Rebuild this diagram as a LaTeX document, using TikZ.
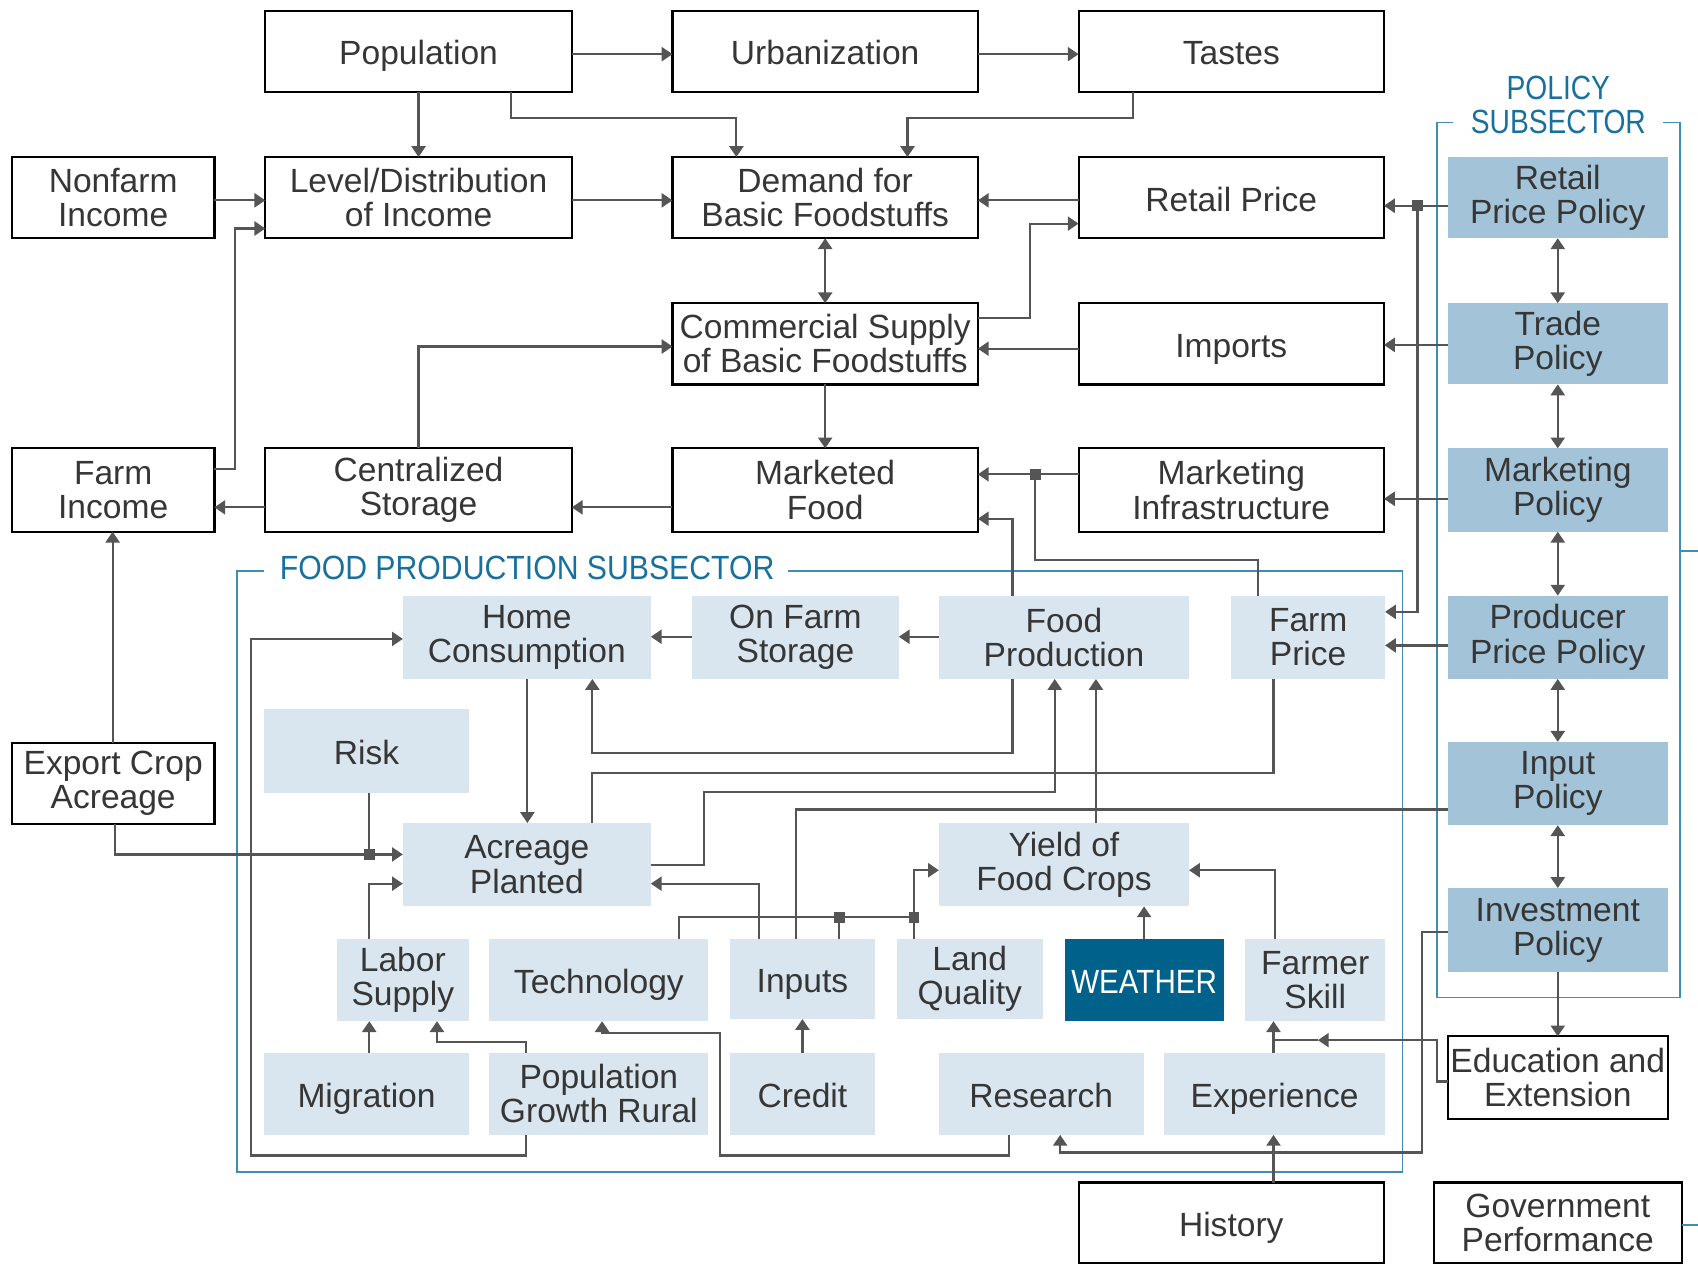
\documentclass[tikz,border=0pt]{standalone}
\usepackage{fontspec}
\usepackage{graphicx}
\setmainfont{Liberation Sans}
\usetikzlibrary{arrows.meta}
\definecolor{lc}{HTML}{555555}
\definecolor{tc}{HTML}{363636}
\definecolor{lfill}{HTML}{D9E5EF}
\definecolor{pfill}{HTML}{A3C3D8}
\definecolor{wfill}{HTML}{00628A}
\definecolor{frc}{HTML}{3E8DB5}
\definecolor{flab}{HTML}{17709D}
\newcommand\mybox[7]{%
  \pgfmathsetmacro\bw{(#4-#3)*0.5}%
  \pgfmathsetmacro\bh{(#6-#5)*0.5}%
  \node[#1, minimum width=\bw pt, minimum height=\bh pt] (#2) at ({(#3+#4)/2},{(#5+#6)/2}) {#7};}
\begin{document}
\begin{tikzpicture}[x=0.5pt,y=-0.5pt,
  base/.style={inner sep=0pt, outer sep=0pt, align=center, font=\fontsize{15.5}{15.8}\selectfont, text=tc},
  sl/.style={text height=12.4pt, text depth=0pt},
  wbox/.style={base, draw=black, line width=1pt, fill=white},
  lbox/.style={base, fill=lfill},
  pbox/.style={base, fill=pfill},
  dbox/.style={base, fill=wfill, text=white},
  ln/.style={draw=lc, line width=1pt},
  arr/.style={ln, -{Triangle[length=5pt,width=6.5pt]}},
  darr/.style={ln, {Triangle[length=5pt,width=6.5pt]}-{Triangle[length=5pt,width=6.5pt]}},
  junc/.style={fill=lc, minimum size=5pt, inner sep=0pt},
  frame/.style={draw=frc, line width=0.8pt},
  flabel/.style={font=\fontsize{15.5}{15.8}\selectfont, text=flab, inner sep=0pt, align=center}]
\useasboundingbox (0,0) rectangle (1568,1168);

% frames
\draw[frame] (244,527) -- (219,527) -- (219,1082) -- (1295,1082) -- (1295,527) -- (728,527);
\node[flabel, anchor=west] (flab) at (258,524) {\scalebox{0.9}[1]{FOOD PRODUCTION SUBSECTOR}};
\draw[frame] (1342,113) -- (1327,113) -- (1327,921) -- (1551.5,921) -- (1551.5,113) -- (1536,113);
\node[flabel] (plab1) at (1439,81) {\scalebox{0.84}[1]{POLICY}};
\node[flabel] (plab2) at (1439,113) {\scalebox{0.84}[1]{SUBSECTOR}};
\draw[frame] (1551.5,509) -- (1568,509);

% white boxes
\mybox{wbox,sl}{pop}{245}{528}{10}{85}{Population}
\mybox{wbox,sl}{urb}{621}{903}{10}{85}{Urbanization}
\mybox{wbox,sl}{tas}{996}{1278}{10}{85}{Tastes}
\mybox{wbox}{nfi}{11}{198}{145}{220}{Nonfarm\\Income}
\mybox{wbox}{lev}{245}{528}{145}{220}{Level/Distribution\\of Income}
\mybox{wbox}{dem}{621}{903}{145}{220}{Demand for\\Basic Foodstuffs}
\mybox{wbox,sl}{ret}{996}{1278}{145}{220}{Retail Price}
\mybox{wbox}{com}{621}{903}{280}{355}{Commercial Supply\\of Basic Foodstuffs}
\mybox{wbox,sl}{imp}{996}{1278}{280}{355}{Imports}
\mybox{wbox}{fin}{11}{198}{414}{491}{Farm\\Income}
\mybox{wbox}{cen}{245}{528}{414}{491}{Centralized\\Storage}
\mybox{wbox}{mkf}{621}{903}{414}{491}{Marketed\\Food}
\mybox{wbox}{mki}{996}{1278}{414}{491}{Marketing\\Infrastructure}
\mybox{wbox}{exp}{11}{198}{686}{761}{Export Crop\\Acreage}
\mybox{wbox}{edu}{1337}{1540}{957}{1033}{Education and\\Extension}
\mybox{wbox,sl}{his}{996}{1278}{1092}{1166}{History}
\mybox{wbox}{gov}{1324}{1553}{1092}{1166}{Government\\Performance}
\draw[frame] (gov.east |- 0,1131) -- (1568,1131);

% light boxes
\mybox{lbox}{hom}{372}{601}{550}{627}{Home\\Consumption}
\mybox{lbox}{ofs}{639}{830}{550}{627}{On Farm\\Storage}
\mybox{lbox}{fpr}{867}{1098}{550}{627}{Food\\Production}
\mybox{lbox}{fpc}{1137}{1279}{550}{627}{Farm\\Price}
\mybox{lbox,sl}{rsk}{244}{433}{655}{732}{Risk}
\mybox{lbox}{acr}{372}{601}{760}{837}{Acreage\\Planted}
\mybox{lbox}{yld}{867}{1098}{760}{837}{Yield of\\Food Crops}
\mybox{lbox}{lab}{311}{433}{867}{943}{Labor\\Supply}
\mybox{lbox,sl}{tec}{452}{654}{867}{943}{Technology}
\mybox{lbox,sl}{inp}{674}{808}{867}{941}{Inputs}
\mybox{lbox}{lnd}{828}{963}{867}{941}{Land\\Quality}
\mybox{dbox,sl}{wea}{983}{1130}{867}{943}{\scalebox{0.88}[1]{WEATHER}}
\mybox{lbox}{fsk}{1150}{1279}{867}{943}{Farmer\\Skill}
\mybox{lbox,sl}{mig}{244}{433}{972}{1048}{Migration}
\mybox{lbox}{pgr}{452}{654}{972}{1048}{Population\\Growth Rural}
\mybox{lbox,sl}{cre}{674}{808}{972}{1048}{Credit}
\mybox{lbox,sl}{res}{867}{1056}{972}{1048}{Research}
\mybox{lbox,sl}{xpe}{1075}{1279}{972}{1048}{Experience}

% policy boxes
\mybox{pbox}{rpp}{1337}{1540}{145}{220}{Retail\\Price Policy}
\mybox{pbox}{trp}{1337}{1540}{280}{355}{Trade\\Policy}
\mybox{pbox}{mkp}{1337}{1540}{414}{491}{Marketing\\Policy}
\mybox{pbox}{ppp}{1337}{1540}{550}{627}{Producer\\Price Policy}
\mybox{pbox}{inpp}{1337}{1540}{685}{762}{Input\\Policy}
\mybox{pbox}{inv}{1337}{1540}{820}{898}{Investment\\Policy}

% junctions
\node[junc] (j1) at (1309,190) {};
\node[junc] (j2) at (956,438) {};
\node[junc] (j3) at (341,789) {};
\node[junc] (j4) at (775,847) {};
\node[junc] (j5) at (844,847) {};
\coordinate (m1) at (1217,960.5);

% connectors: top area
\draw[arr] (pop.east |- 0,50) -- (urb.west |- 0,50);
\draw[arr] (urb.east |- 0,50) -- (tas.west |- 0,50);
\draw[arr] (pop.south) -- (lev.north);
\draw[arr] (pop.south -| 472,0) |- (680,109) -- (dem.north -| 680,0);
\draw[arr] (tas.south -| 1046,0) |- (838,109) -- (dem.north -| 838,0);
\draw[arr] (nfi.east |- 0,185) -- (lev.west |- 0,185);
\draw[arr] (fin.east |- 0,433) -| (217,211) -- (lev.west |- 0,211);
\draw[arr] (lev.east |- 0,185) -- (dem.west |- 0,185);
\draw[arr] (ret.west |- 0,185) -- (dem.east |- 0,185);
\draw[arr] (rpp.west |- 0,190) -- (ret.east |- 0,190);
\draw[arr] (j1.center) |- (fpc.east |- 0,565);
\draw[darr] (dem.south) -- (com.north);
\draw[arr] (com.east |- 0,294) -| (951,206.5) -- (ret.west |- 0,206.5);
\draw[arr] (imp.west |- 0,322) -- (com.east |- 0,322);
\draw[arr] (trp.west |- 0,318.5) -- (imp.east |- 0,318.5);
\draw[arr] (cen.north) |- (com.west |- 0,320);
\draw[arr] (com.south) -- (mkf.north);
\draw[arr] (mki.west |- 0,438) -- (mkf.east |- 0,438);
\draw[ln] (fpc.north -| 1162,0) |- (956,517) -- (j2.center);
\draw[arr] (fpr.north -| 935,0) |- (mkf.east |- 0,479);
\draw[arr] (mkp.west |- 0,460.6) -- (mki.east |- 0,460.6);
\draw[arr] (mkf.west |- 0,468.5) -- (cen.east |- 0,468.5);
\draw[arr] (cen.west |- 0,468.5) -- (fin.east |- 0,468.5);
\draw[arr] (exp.north -| 104,0) -- (fin.south -| 104,0);

% policy chain
\draw[darr] (rpp.south) -- (trp.north);
\draw[darr] (trp.south) -- (mkp.north);
\draw[darr] (mkp.south) -- (ppp.north);
\draw[darr] (ppp.south) -- (inpp.north);
\draw[darr] (inpp.south) -- (inv.north);
\draw[arr] (inv.south) -- (edu.north);
\draw[arr] (ppp.west |- 0,596) -- (fpc.east |- 0,596);

% food production subsector
\draw[arr] (fpr.west |- 0,588) -- (ofs.east |- 0,588);
\draw[arr] (ofs.west |- 0,588) -- (hom.east |- 0,588);
\draw[arr] (pgr.south -| 485.6,0) -- (485.6,1067) -| (232,590) -- (hom.west |- 0,590);
\draw[arr] (hom.south -| 487,0) -- (acr.north -| 487,0);
\draw[arr] (fpr.south -| 935,0) |- (547,695) -- (hom.south -| 547,0);
\draw[ln] (acr.north -| 547,0) |- (1176,713.5) -- (fpc.south -| 1176,0);
\draw[arr] (acr.east |- 0,799) -| (650,731) -| (fpr.south -| 974,0);
\draw[arr] (exp.south -| 106,0) |- (acr.west |- 0,789);
\draw[ln] (rsk.south -| 341,0) -- (j3.center);
\draw[arr] (lab.north -| 341,0) |- (acr.west |- 0,816);
\draw[arr] (inp.north -| 701,0) |- (acr.east |- 0,816);
\draw[arr] (tec.north -| 627,0) |- (844,847) |- (yld.west |- 0,803.6);
\draw[ln] (inp.north -| 775,0) -- (j4.center);
\draw[ln] (lnd.north -| 844,0) -- (j5.center);
\draw[ln] (inpp.west |- 0,747.5) -| (inp.north -| 735,0);
\draw[arr] (yld.north -| 1012,0) -- (fpr.south -| 1012,0);
\draw[arr] (wea.north) -- (wea.north |- yld.south);
\draw[arr] (fsk.north -| 1177,0) |- (yld.east |- 0,803.6);
\draw[arr] (mig.north -| 341,0) -- (lab.south -| 341,0);
\draw[arr] (pgr.north -| 485.6,0) |- (403.5,962) -- (lab.south -| 403.5,0);
\draw[arr] (res.south -| 932,0) |- (665,1067) |- (556,954) -- (tec.south -| 556,0);
\draw[arr] (cre.north -| 741,0) -- (inp.south -| 741,0);
\draw[arr] (xpe.north -| 1176,0) -- (fsk.south -| 1176,0);
\draw[arr] (edu.west |- 0,998.7) -| (1326.7,960.5) -- (m1);
\draw[ln] (m1) -- (1176,960.5);
\draw[arr] (inv.west |- 0,861) -| (1313,1064.3) -| (res.south -| 979,0);
\draw[arr] (his.north -| 1176,0) -- (xpe.south -| 1176,0);
\end{tikzpicture}
\end{document}
